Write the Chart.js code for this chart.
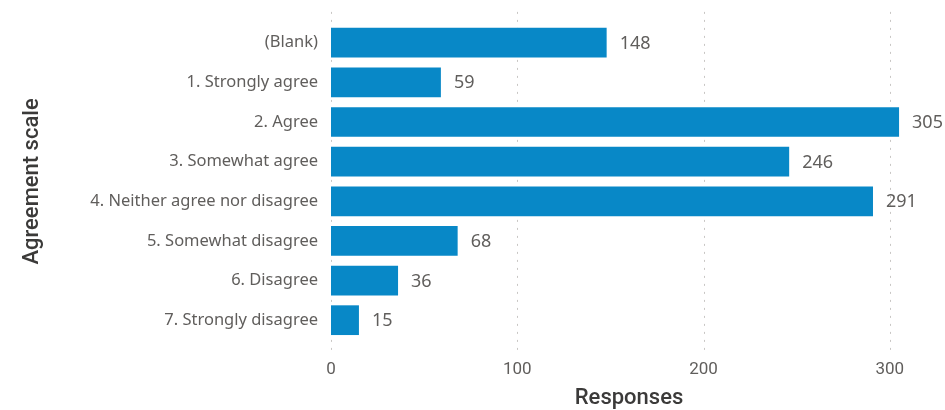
<!DOCTYPE html>
<html>
<head>
<meta charset="utf-8">
<script src="https://cdn.jsdelivr.net/npm/chart.js@4/dist/chart.umd.min.js"></script>
<style>
  html, body { margin: 0; padding: 0; background: #fff; }
  #wrap { width: 945px; height: 410px; position: relative; }
</style>
</head>
<body>
<div id="wrap"><canvas id="chart-responses"></canvas></div>
<script>
// 데이터
const CATEGORIES = [
  '(Blank)',
  '1. Strongly agree',
  '2. Agree',
  '3. Somewhat agree',
  '4. Neither agree nor disagree',
  '5. Somewhat disagree',
  '6. Disagree',
  '7. Strongly disagree',
];
const RESPONSES = [148, 59, 305, 246, 291, 68, 36, 15];
const X_TICKS = [0, 100, 200, 300];

const COLORS = {
  bar: '#0888c7',
  label: '#605e5c',
  title: '#3b3a39',
  grid: '#c8c6c4',
};

const LABEL_FONT = "'Noto Sans', 'Open Sans', sans-serif";
const TITLE_FONT = "Roboto, 'Noto Sans', sans-serif";

/** 점선 세로 격자 — 플롯 영역 위/아래로 조금 더 길게 */
const dottedGrid = {
  id: 'dottedGrid',
  beforeDatasetsDraw(chart) {
    const { ctx, chartArea, scales } = chart;
    ctx.save();
    ctx.strokeStyle = COLORS.grid;
    ctx.lineWidth = 1;
    ctx.setLineDash([2, 6]);
    X_TICKS.forEach((v) => {
      const x = Math.round(scales.x.getPixelForValue(v)) + 0.5;
      ctx.beginPath();
      ctx.moveTo(x, chartArea.top - 11);
      ctx.lineTo(x, chartArea.bottom + 12);
      ctx.stroke();
    });
    ctx.restore();
  },
};

/** 막대 끝 값 라벨 */
const valueLabels = {
  id: 'valueLabels',
  afterDatasetsDraw(chart) {
    const { ctx } = chart;
    const meta = chart.getDatasetMeta(0);
    ctx.save();
    ctx.font = `18px ${LABEL_FONT}`;
    ctx.fillStyle = COLORS.label;
    ctx.textAlign = 'left';
    ctx.textBaseline = 'middle';
    meta.data.forEach((bar, i) => {
      ctx.fillText(String(RESPONSES[i]), bar.x + 13, bar.y + 1);
    });
    ctx.restore();
  },
};

new Chart(document.getElementById('chart-responses'), {
  type: 'bar',
  data: {
    labels: CATEGORIES,
    datasets: [{
      label: 'Responses',
      data: RESPONSES,
      backgroundColor: COLORS.bar,
      categoryPercentage: 0.75,
      barPercentage: 1,
    }],
  },
  options: {
    indexAxis: 'y',
    responsive: true,
    maintainAspectRatio: false,
    animation: false,
    layout: { padding: { top: 19, right: 18, left: 19, bottom: 0 } },
    plugins: {
      legend: { display: false },
      tooltip: { enabled: false },
    },
    scales: {
      x: {
        min: 0,
        max: 320,
        afterBuildTicks: (scale) => {
          scale.ticks = X_TICKS.map((v) => ({ value: v }));
        },
        afterFit: (scale) => { scale.height = 70; },
        border: { display: false },
        grid: { display: false, drawTicks: false },
        ticks: {
          color: COLORS.label,
          font: { family: TITLE_FONT, size: 17 },
          padding: 20,
        },
        title: {
          display: true,
          text: 'Responses',
          color: COLORS.title,
          font: { family: TITLE_FONT, size: 22, weight: '500' },
          padding: { top: 0, bottom: -2 },
        },
      },
      y: {
        afterFit: (scale) => { scale.width = 312; },
        border: { display: false },
        grid: { display: false, drawTicks: false },
        ticks: {
          color: COLORS.label,
          font: { family: LABEL_FONT, size: 16.5 },
          padding: 13,
        },
        title: {
          display: true,
          text: 'Agreement scale',
          color: COLORS.title,
          font: { family: TITLE_FONT, size: 22, weight: '500' },
          padding: { top: 0, bottom: 0 },
        },
      },
    },
  },
  plugins: [dottedGrid, valueLabels],
});
</script>
</body>
</html>
